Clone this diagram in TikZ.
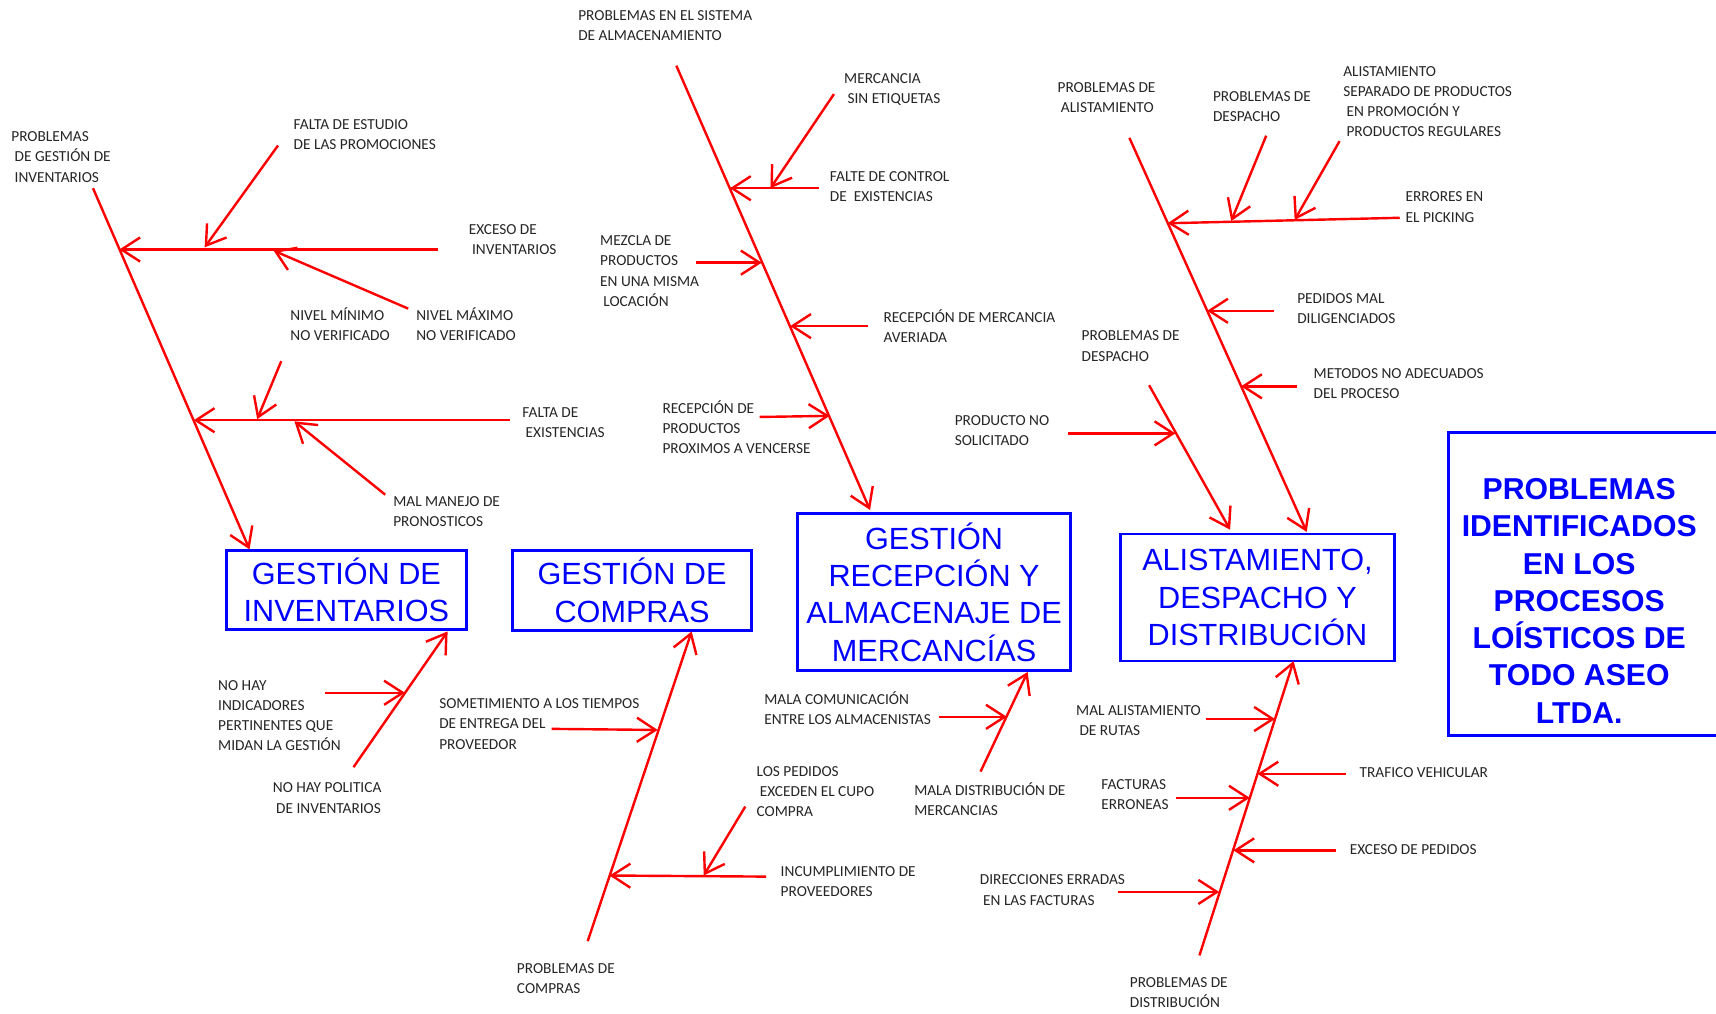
\documentclass[tikz,border=0pt]{standalone}
\usepackage{fontspec}
\setmainfont{Carlito}
\newfontfamily\boxfont{Liberation Sans}
\usetikzlibrary{arrows.meta}
\definecolor{fred}{RGB}{255,0,0}
\definecolor{fblue}{RGB}{0,0,255}
\newcommand{\myind}{\hspace*{1.5pt}}
\newcommand{\ml}[1]{\begin{tabular}[t]{@{}l@{}}#1\end{tabular}}
\begin{document}
\begin{tikzpicture}[x=0.5pt,y=-0.5pt,
  bone/.style={draw=fred,line width=1.1pt},
  arr/.style={bone,-{Straight Barb[length=8.5pt,width=11pt]}},
  lbl/.style={anchor=base west,inner sep=0pt,text=black!85,font=\fontsize{7}{9.25}\selectfont},
  cbox/.style={draw=fblue,line width=1.3pt,text=fblue,align=center,inner sep=0pt,font=\boxfont\fontsize{14}{17}\selectfont},
  ]
\clip (0,0) rectangle (1568,926);
\fill[white] (0,0) rectangle (1568,926);

% ---------- boxes ----------
\node[cbox,minimum width=109.5pt,minimum height=36pt] (B1) at (316.5,539) {GESTIÓN DE\\INVENTARIOS};
\node[cbox,minimum width=109.5pt,minimum height=36.5pt] (B2) at (577.5,539.5) {GESTIÓN DE\\COMPRAS};
\node[cbox,minimum width=124.5pt,minimum height=72pt] (B3) at (853.5,541) {GESTIÓN\\RECEPCIÓN Y\\ALMACENAJE DE\\MERCANCÍAS};
\node[cbox,minimum width=125pt,minimum height=58pt] (B4) at (1149,546) {ALISTAMIENTO,\\DESPACHO Y\\DISTRIBUCIÓN};
\node[draw=fblue,line width=1.3pt,anchor=north west,minimum width=130pt,minimum height=138.5pt,inner sep=0pt] (B5) at (1322,394) {};
\node[text=fblue,align=center,inner sep=0pt,font=\boxfont\bfseries\fontsize{13.8}{17}\selectfont] (title) at (1443,549) {PROBLEMAS\\IDENTIFICADOS\\EN LOS\\PROCESOS\\LOÍSTICOS DE\\TODO ASEO\\LTDA.};

% ---------- fishbone 1: inventarios ----------
\coordinate (i0) at (85,172); \coordinate (i1) at (228,502);
\coordinate (ra0) at (400,228); \coordinate (ra1) at (109,228);
\coordinate (sa0) at (254,133); \coordinate (sa1) at (187,226);
\coordinate (sb0) at (373,282); \coordinate (sb1) at (250,229);
\coordinate (rb0) at (466,384); \coordinate (rb1) at (177,384);
\coordinate (sc0) at (257,330); \coordinate (sc1) at (235,383);
\coordinate (sd0) at (352,452); \coordinate (sd1) at (269,385);
\draw[arr] (i0) -- (i1);
\draw[arr] (ra0) -- (ra1);
\draw[arr] (sa0) -- (sa1);
\draw[arr] (sb0) -- (sb1);
\draw[arr] (rb0) -- (rb1);
\draw[arr] (sc0) -- (sc1);
\draw[arr] (sd0) -- (sd1);
\node[lbl] (tPI) at (10,129.5) {\ml{PROBLEMAS\\\myind DE GESTIÓN DE\\\myind INVENTARIOS}};
\node[lbl] (tFE) at (268,118.5) {\ml{FALTA DE ESTUDIO\\DE LAS PROMOCIONES}};
\node[lbl] (tEI) at (428,214.5) {\ml{EXCESO DE\\\myind INVENTARIOS}};
\node[lbl] (tNmin) at (265,292.5) {\ml{NIVEL MÍNIMO\\NO VERIFICADO}};
\node[lbl] (tNmax) at (380,292.5) {\ml{NIVEL MÁXIMO\\NO VERIFICADO}};
\node[lbl] (tFX) at (477,381.5) {\ml{FALTA DE\\\myind EXISTENCIAS}};
\node[lbl] (tMM) at (359,462.5) {\ml{MAL MANEJO DE\\PRONOSTICOS}};

% below B1
\coordinate (j0) at (323,701); \coordinate (j1) at (409,577);
\coordinate (jb0) at (297,633); \coordinate (jb1) at (370,633);
\draw[arr] (j0) -- (j1);
\draw[arr] (jb0) -- (jb1);
\node[lbl] (tNH) at (199,630.5) {\ml{NO HAY\\INDICADORES\\PERTINENTES QUE\\MIDAN LA GESTIÓN}};
\node[lbl] (tNP) at (249,724.5) {\ml{NO HAY POLITICA\\\myind DE INVENTARIOS}};

% ---------- fishbone 2: compras ----------
\coordinate (c0) at (537,860); \coordinate (c1) at (632,577);
\coordinate (cr0) at (700,801); \coordinate (cr1) at (557,800);
\coordinate (cs0) at (681,737); \coordinate (cs1) at (643,800);
\coordinate (ct0) at (504,666); \coordinate (ct1) at (601,667);
\draw[arr] (c0) -- (c1);
\draw[arr] (cr0) -- (cr1);
\draw[arr] (cs0) -- (cs1);
\draw[arr] (ct0) -- (ct1);
\node[lbl] (tST) at (401,647.5) {\ml{SOMETIMIENTO A LOS TIEMPOS\\DE ENTREGA DEL\\PROVEEDOR}};
\node[lbl] (tLP) at (691,709.5) {\ml{LOS PEDIDOS\\\myind EXCEDEN EL CUPO\\COMPRA}};
\node[lbl] (tIP) at (713,800.5) {\ml{INCUMPLIMIENTO DE\\PROVEEDORES}};
\node[lbl] (tPC) at (472,889.5) {\ml{PROBLEMAS DE\\COMPRAS}};

% ---------- fishbone 3: almacenaje ----------
\coordinate (a0) at (618,60); \coordinate (a1) at (795,466);
\coordinate (am0) at (762,86); \coordinate (am1) at (704,172);
\coordinate (ar0) at (748,172); \coordinate (ar1) at (667,172);
\coordinate (ax0) at (636,240); \coordinate (ax1) at (696,240);
\coordinate (ay0) at (793,298); \coordinate (ay1) at (722,298);
\coordinate (az0) at (694,381); \coordinate (az1) at (758,380);
\draw[arr] (a0) -- (a1);
\draw[arr] (am0) -- (am1);
\draw[arr] (ar0) -- (ar1);
\draw[arr] (ax0) -- (ax1);
\draw[arr] (ay0) -- (ay1);
\draw[arr] (az0) -- (az1);
\node[lbl] (tPS) at (528,18.5) {\ml{PROBLEMAS EN EL SISTEMA\\DE ALMACENAMIENTO}};
\node[lbl] (tMS) at (771,76.5) {\ml{MERCANCIA\\\myind SIN ETIQUETAS}};
\node[lbl] (tFC) at (758,165.5) {\ml{FALTE DE CONTROL\\DE\ \ EXISTENCIAS}};
\node[lbl] (tMZ) at (548,224.5) {\ml{MEZCLA DE\\PRODUCTOS\\EN UNA MISMA\\\myind LOCACIÓN}};
\node[lbl] (tRM) at (807,294.5) {\ml{RECEPCIÓN DE MERCANCIA\\AVERIADA}};
\node[lbl] (tRP) at (605,377.5) {\ml{RECEPCIÓN DE\\PRODUCTOS\\PROXIMOS A VENCERSE}};

% below B3
\coordinate (m0) at (896,705); \coordinate (m1) at (939,614);
\coordinate (mc0) at (858,655); \coordinate (mc1) at (920,655);
\draw[arr] (m0) -- (m1);
\draw[arr] (mc0) -- (mc1);
\node[lbl] (tMC) at (698,643.5) {\ml{MALA COMUNICACIÓN\\ENTRE LOS ALMACENISTAS}};
\node[lbl] (tMD) at (835,726.5) {\ml{MALA DISTRIBUCIÓN DE\\MERCANCIAS}};

% ---------- fishbone 4: alistamiento ----------
\coordinate (l0) at (1032,126); \coordinate (l1) at (1194,486);
\coordinate (le0) at (1279,199); \coordinate (le1) at (1067,204);
\coordinate (ld0) at (1157,124); \coordinate (ld1) at (1125,202);
\coordinate (ls0) at (1224,129); \coordinate (ls1) at (1183,201);
\coordinate (lp0) at (1164,284); \coordinate (lp1) at (1103,284);
\coordinate (lm0) at (1185,353); \coordinate (lm1) at (1134,353);
\draw[arr] (l0) -- (l1);
\draw[arr] (le0) -- (le1);
\draw[arr] (ld0) -- (ld1);
\draw[arr] (ls0) -- (ls1);
\draw[arr] (lp0) -- (lp1);
\draw[arr] (lm0) -- (lm1);
\coordinate (k0) at (1050,352); \coordinate (k1) at (1124,484);
\coordinate (kp0) at (976,396); \coordinate (kp1) at (1074,396);
\draw[arr] (k0) -- (k1);
\draw[arr] (kp0) -- (kp1);
\node[lbl] (tPA) at (966,84.5) {\ml{PROBLEMAS DE\\\myind ALISTAMIENTO}};
\node[lbl] (tPD1) at (1108,92.5) {\ml{PROBLEMAS DE\\DESPACHO}};
\node[lbl] (tAS) at (1227,69.5) {\ml{ALISTAMIENTO\\SEPARADO DE PRODUCTOS\\\myind EN PROMOCIÓN Y\\\myind PRODUCTOS REGULARES}};
\node[lbl] (tEP) at (1284,184.5) {\ml{ERRORES EN\\EL PICKING}};
\node[lbl] (tPM) at (1185,277.5) {\ml{PEDIDOS MAL\\DILIGENCIADOS}};
\node[lbl] (tMN) at (1200,345.5) {\ml{METODOS NO ADECUADOS\\DEL PROCESO}};
\node[lbl] (tPD2) at (988,311.5) {\ml{PROBLEMAS DE\\DESPACHO}};
\node[lbl] (tPN) at (872,388.5) {\ml{PRODUCTO NO\\SOLICITADO}};

% ---------- fishbone 5: distribucion ----------
\coordinate (d0) at (1096,873); \coordinate (d1) at (1182,604);
\coordinate (da0) at (1102,657); \coordinate (da1) at (1165,657);
\coordinate (db0) at (1230,707); \coordinate (db1) at (1149,707);
\coordinate (dc0) at (1075,729); \coordinate (dc1) at (1142,729);
\coordinate (dd0) at (1221,777); \coordinate (dd1) at (1127,777);
\coordinate (de0) at (1022,815); \coordinate (de1) at (1114,815);
\draw[arr] (d0) -- (d1);
\draw[arr] (da0) -- (da1);
\draw[arr] (db0) -- (db1);
\draw[arr] (dc0) -- (dc1);
\draw[arr] (dd0) -- (dd1);
\draw[arr] (de0) -- (de1);
\node[lbl] (tMA) at (983,653.5) {\ml{MAL ALISTAMIENTO\\\myind DE RUTAS}};
\node[lbl] (tTV) at (1242,710.5) {TRAFICO VEHICULAR};
\node[lbl] (tFA) at (1006,721.5) {\ml{FACTURAS\\ERRONEAS}};
\node[lbl] (tEX) at (1233,780.5) {EXCESO DE PEDIDOS};
\node[lbl] (tDE) at (895,808.5) {\ml{DIRECCIONES ERRADAS\\\myind EN LAS FACTURAS}};
\node[lbl] (tPDi) at (1032,902.5) {\ml{PROBLEMAS DE\\DISTRIBUCIÓN}};
\end{tikzpicture}
\end{document}
